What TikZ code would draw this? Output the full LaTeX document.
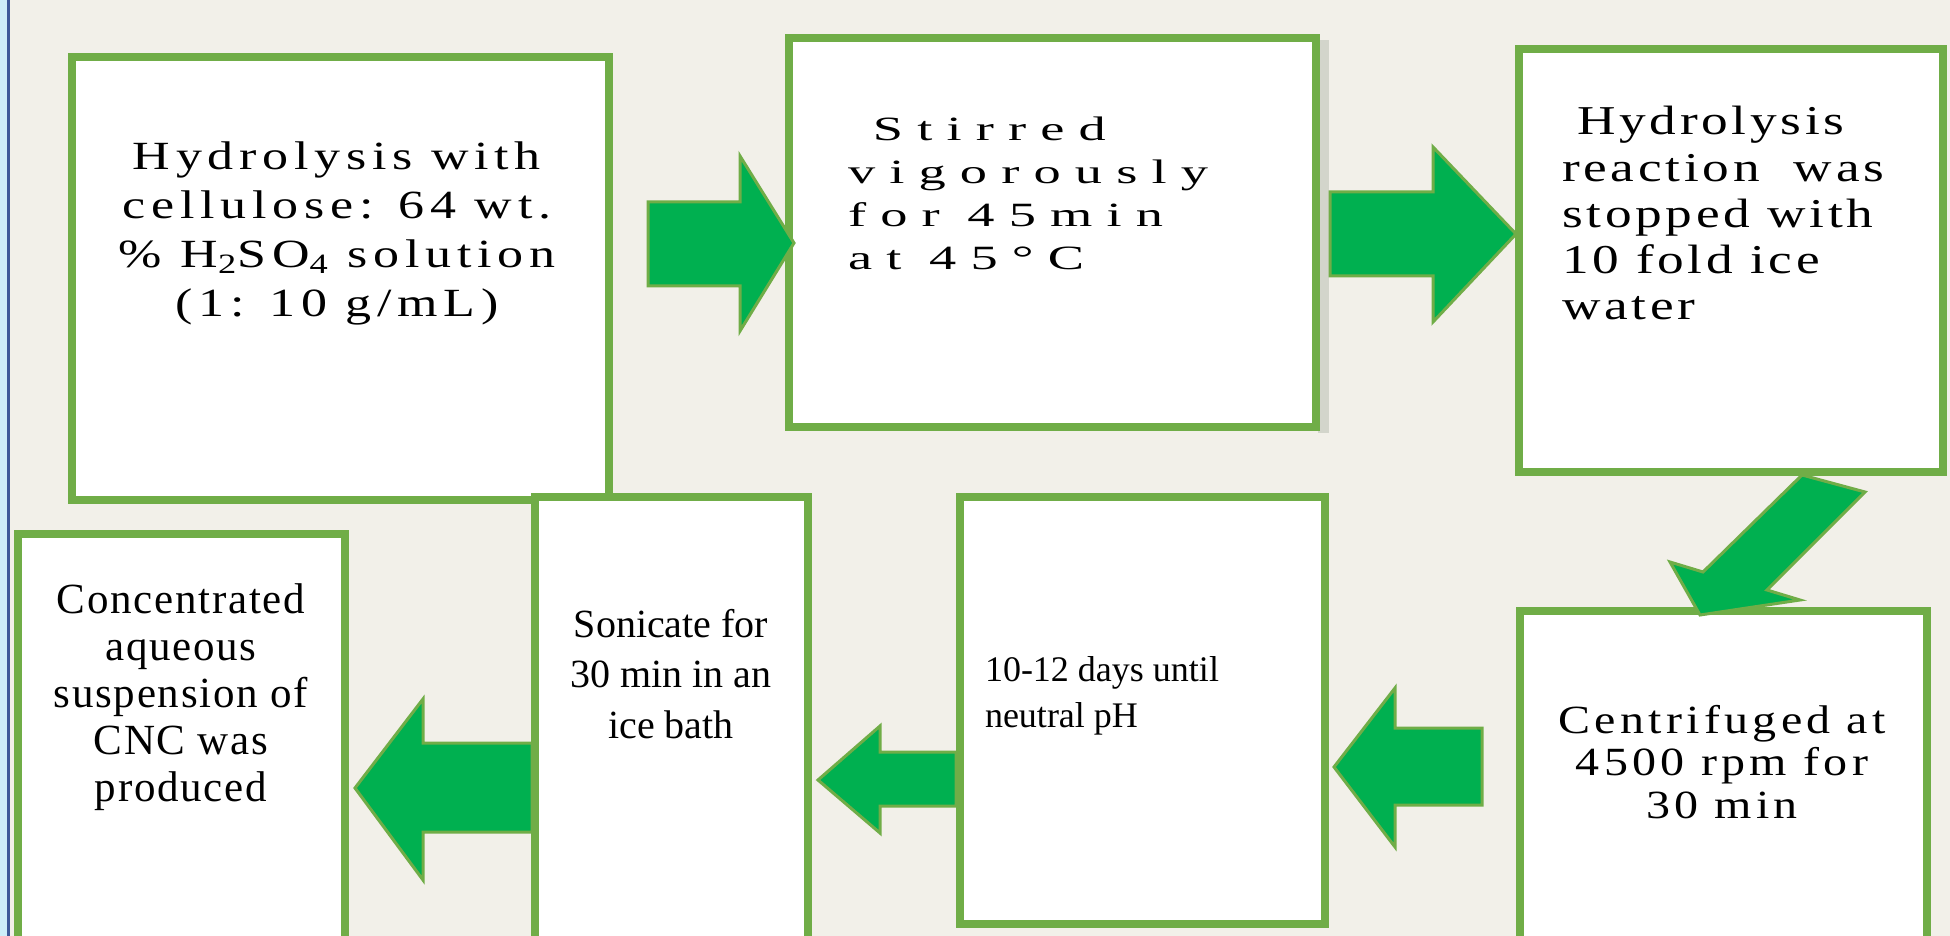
\documentclass[tikz,border=0pt]{standalone}
\usepackage{fontspec}
\usepackage{graphicx}
\setmainfont{Liberation Serif}
\usetikzlibrary{fit}
\definecolor{bgc}{HTML}{F2F0E9}
\definecolor{lightblue}{HTML}{CDEEF9}
\definecolor{darkblue}{HTML}{3D5A99}
\definecolor{boxgreen}{HTML}{70AD47}
\definecolor{arrowfill}{HTML}{00B050}
\definecolor{shadowc}{HTML}{D3D5CB}
\begin{document}
\begin{tikzpicture}[x=0.5pt,y=-0.5pt,
  box/.style={draw=boxgreen, line width=4pt, fill=white, inner sep=0pt, outer sep=0pt},
  barrow/.style={fill=arrowfill, draw=boxgreen, line width=1.5pt, line join=miter},
  txt/.style={inner sep=0pt, outer sep=0pt, text=black}]
\clip (0,0) rectangle (1950,936);
\fill[bgc] (0,0) rectangle (1950,936);
\fill[lightblue] (0,0) rectangle (7,936);
\fill[darkblue] (7,0) rectangle (9.5,936);
% shadow of the second box
\fill[shadowc] (1318,40) rectangle (1329,433);
% boxes
\node[box, fit={(72,57) (609,500)}] (b1) {};
\node[box, fit={(789,38) (1316,427)}] (b2) {};
\node[box, fit={(1519,49) (1943,472)}] (b3) {};
\node[box, fit={(1520,611) (1927,960)}] (b4) {};
\node[box, fit={(960,497) (1325,924)}] (b5) {};
\node[box, fit={(535,497) (808,960)}] (b6) {};
\node[box, fit={(18,534) (345,960)}] (b7) {};
% block arrows
\draw[barrow] (648,202) -- (740,202) -- (740,156) -- (794,243) -- (740,331) -- (740,286) -- (648,286) -- cycle;
\draw[barrow] (1330,192) -- (1433,192) -- (1433,147) -- (1516,234) -- (1433,322) -- (1433,276) -- (1330,276) -- cycle;
\draw[barrow] (1802,475) -- (1865,492) -- (1767,590) -- (1800,600) -- (1700,615) -- (1670,562) -- (1703,572) -- cycle;
\draw[barrow] (1482,728) -- (1395,728) -- (1395,688) -- (1334,767) -- (1395,847) -- (1395,805) -- (1482,805) -- cycle;
\draw[barrow] (956,752) -- (880,752) -- (880,726) -- (818,780) -- (880,833) -- (880,806) -- (956,806) -- cycle;
\draw[barrow] (532,743) -- (423,743) -- (423,699) -- (355,788) -- (423,880) -- (423,832) -- (532,832) -- cycle;
% texts
\node[txt, anchor=base, font=\fontsize{20}{24.35}\selectfont\addfontfeatures{LetterSpace=11}] (t1) at (337,170)
  {\scalebox{1.3}[1]{\begin{tabular}[t]{@{}c@{}}Hydrolysis with\\cellulose: 64 wt.\\\% H\textsubscript{2}SO\textsubscript{4} solution\\(1: 10 g/mL)\end{tabular}}};
\node[txt, anchor=base west, font=\fontsize{17}{21.5}\selectfont\addfontfeatures{LetterSpace=26}] (t2) at (848,141)
  {\scalebox{1.6}[1]{\begin{tabular}[t]{@{}l@{}}\hspace*{7.8pt}Stirred\\vigorously\\for 45min\\at 45°C\end{tabular}}};
\node[txt, anchor=base west, font=\fontsize{20.5}{23.1}\selectfont\addfontfeatures{LetterSpace=7}] (t3) at (1562,135)
  {\scalebox{1.3}[1]{\begin{tabular}[t]{@{}l@{}}\hspace*{5.8pt}Hydrolysis\\reaction\ \ was\\stopped with\\10 fold ice\\water\end{tabular}}};
\node[txt, anchor=base, font=\fontsize{20}{21.25}\selectfont\addfontfeatures{LetterSpace=9}] (t4) at (1722,733)
  {\scalebox{1.2}[1]{\begin{tabular}[t]{@{}c@{}}Centrifuged at\\4500 rpm for\\30 min\end{tabular}}};
\node[txt, anchor=base west, font=\fontsize{18}{23}\selectfont] (t5) at (985,681)
  {\begin{tabular}[t]{@{}l@{}}10-12 days until\\neutral pH\end{tabular}};
\node[txt, anchor=base, font=\fontsize{20}{25.25}\selectfont] (t6) at (671,637)
  {\begin{tabular}[t]{@{}c@{}}Sonicate for\\30 min in an\\ice bath\end{tabular}};
\node[txt, anchor=base, font=\fontsize{21.5}{23.6}\selectfont\addfontfeatures{LetterSpace=4}] (t7) at (181,613)
  {\begin{tabular}[t]{@{}c@{}}Concentrated\\aqueous\\suspension of\\CNC was\\produced\end{tabular}};
\end{tikzpicture}
\end{document}
